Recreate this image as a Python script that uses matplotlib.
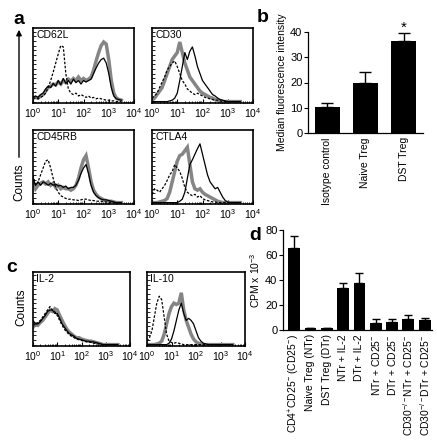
import numpy as np
import matplotlib
matplotlib.use("Agg")
import matplotlib.pyplot as plt
from matplotlib.ticker import LogLocator, NullFormatter, FixedLocator

plt.rcParams['font.family'] = ['Liberation Sans', 'DejaVu Sans']
plt.rcParams['mathtext.fontset'] = 'custom'
plt.rcParams['mathtext.rm'] = 'Liberation Sans'
plt.rcParams['mathtext.it'] = 'Liberation Sans:italic'
plt.rcParams['mathtext.bf'] = 'Liberation Sans:bold'

# ---------------- data ----------------
# histogram counts (fraction of panel height), bins every 0.1 decade starting at 10^0
cd62l_iso = [0.05,0.05,0.04,0.06,0.08,0.12,0.2,0.3,0.42,0.55,0.68,0.8,0.78,0.4,0.18,0.12,0.1,0.12,0.08,0.1,0.08,0.06,0.08,0.05,0.06,0.04,0.05,0.04,0.03,0.02,0.02,0.01,0.01,0.0,0.0,0.0]
cd62l_nai = [0.05,0.06,0.05,0.08,0.1,0.15,0.2,0.22,0.25,0.24,0.28,0.25,0.3,0.27,0.32,0.29,0.33,0.3,0.35,0.3,0.33,0.3,0.32,0.35,0.45,0.58,0.7,0.8,0.85,0.82,0.6,0.3,0.12,0.05,0.03,0.02]
cd62l_dst = [0.06,0.08,0.06,0.1,0.12,0.18,0.22,0.2,0.26,0.22,0.3,0.24,0.33,0.26,0.3,0.25,0.32,0.27,0.3,0.25,0.3,0.28,0.3,0.32,0.4,0.48,0.55,0.6,0.62,0.55,0.4,0.2,0.08,0.04,0.03,0.02]

cd30_iso = [0.05,0.08,0.12,0.2,0.28,0.35,0.45,0.5,0.55,0.58,0.5,0.4,0.3,0.25,0.18,0.15,0.12,0.1,0.12,0.1,0.08,0.06,0.05,0.04,0.03,0.02,0.02,0.01,0.0,0.0,0.0,0.0,0.0,0.0,0.0,0.0]
cd30_nai = [0.02,0.05,0.1,0.15,0.2,0.3,0.4,0.5,0.6,0.65,0.7,0.85,0.7,0.55,0.45,0.35,0.3,0.25,0.2,0.15,0.12,0.1,0.08,0.06,0.05,0.03,0.02,0.01,0.0,0.0,0.0,0.0,0.0,0.0,0.0,0.0]
cd30_dst = [0.0,0.0,0.0,0.0,0.0,0.0,0.0,0.01,0.02,0.05,0.12,0.3,0.5,0.7,0.6,0.72,0.78,0.65,0.5,0.4,0.3,0.25,0.2,0.15,0.1,0.08,0.05,0.03,0.02,0.01,0.0,0.0,0.0,0.0,0.0,0.0]

cd45_iso = [0.4,0.25,0.3,0.4,0.5,0.6,0.62,0.5,0.35,0.22,0.15,0.1,0.08,0.06,0.05,0.05,0.04,0.04,0.03,0.04,0.05,0.05,0.04,0.03,0.03,0.02,0.02,0.02,0.01,0.01,0.01,0.0,0.0,0.0,0.0,0.0]
cd45_nai = [0.3,0.2,0.25,0.28,0.3,0.27,0.3,0.25,0.28,0.22,0.25,0.2,0.22,0.2,0.2,0.18,0.2,0.25,0.35,0.5,0.62,0.68,0.5,0.3,0.18,0.12,0.08,0.06,0.04,0.03,0.02,0.02,0.01,0.0,0.0,0.0]
cd45_dst = [0.35,0.25,0.3,0.25,0.3,0.28,0.25,0.28,0.25,0.27,0.24,0.25,0.22,0.24,0.2,0.22,0.22,0.25,0.32,0.42,0.5,0.55,0.42,0.25,0.15,0.1,0.07,0.05,0.04,0.04,0.03,0.02,0.01,0.0,0.0,0.0]

ctla4_iso = [0.12,0.2,0.18,0.15,0.2,0.25,0.32,0.4,0.45,0.55,0.5,0.45,0.35,0.22,0.15,0.12,0.1,0.12,0.08,0.1,0.06,0.04,0.03,0.02,0.01,0.01,0.0,0.0,0.0,0.0,0.0,0.0,0.0,0.0,0.0,0.0]
ctla4_nai = [0.0,0.0,0.0,0.01,0.02,0.03,0.06,0.15,0.3,0.45,0.6,0.68,0.7,0.75,0.8,0.55,0.3,0.2,0.18,0.2,0.15,0.12,0.1,0.08,0.06,0.04,0.02,0.01,0.0,0.0,0.0,0.0,0.0,0.0,0.0,0.0]
ctla4_dst = [0.0,0.0,0.0,0.0,0.0,0.0,0.0,0.0,0.0,0.0,0.0,0.02,0.05,0.15,0.35,0.55,0.62,0.7,0.78,0.85,0.7,0.55,0.4,0.3,0.25,0.2,0.22,0.15,0.08,0.03,0.01,0.0,0.0,0.0,0.0,0.0]

il2_iso = [0.3,0.28,0.32,0.35,0.4,0.45,0.5,0.55,0.5,0.48,0.42,0.35,0.28,0.22,0.18,0.14,0.12,0.1,0.08,0.07,0.06,0.05,0.04,0.04,0.03,0.02,0.02,0.01,0.0,0.0,0.0,0.0,0.0,0.0,0.0,0.0]
il2_nai = [0.25,0.3,0.28,0.32,0.35,0.4,0.45,0.5,0.48,0.52,0.5,0.42,0.35,0.28,0.22,0.18,0.15,0.12,0.1,0.1,0.08,0.07,0.06,0.05,0.05,0.04,0.03,0.02,0.01,0.0,0.0,0.0,0.0,0.0,0.0,0.0]
il2_dst = [0.35,0.3,0.3,0.33,0.38,0.42,0.48,0.5,0.5,0.45,0.45,0.38,0.3,0.25,0.2,0.16,0.14,0.12,0.09,0.08,0.07,0.06,0.05,0.05,0.04,0.04,0.03,0.02,0.01,0.0,0.0,0.0,0.0,0.0,0.0,0.0]

il10_iso = [0.05,0.1,0.2,0.4,0.6,0.7,0.65,0.4,0.15,0.05,0.03,0.02,0.03,0.02,0.01,0.0,0.0,0.0,0.0,0.0,0.0,0.0,0.0,0.0,0.0,0.0,0.0,0.0,0.0,0.0,0.0,0.0,0.0,0.0,0.0,0.0]
il10_nai = [0.0,0.0,0.0,0.0,0.01,0.02,0.05,0.15,0.3,0.45,0.55,0.6,0.58,0.6,0.75,0.5,0.35,0.25,0.15,0.08,0.04,0.02,0.01,0.0,0.0,0.0,0.0,0.0,0.0,0.0,0.0,0.0,0.0,0.0,0.0,0.0]
il10_dst = [0.0,0.0,0.0,0.0,0.0,0.0,0.0,0.0,0.0,0.02,0.08,0.2,0.35,0.5,0.6,0.45,0.35,0.38,0.35,0.3,0.2,0.1,0.05,0.02,0.01,0.0,0.0,0.0,0.0,0.0,0.0,0.0,0.0,0.0,0.0,0.0]

hist_names = ["CD62L", "CD30", "CD45RB", "CTLA4", "IL-2", "IL-10"]

b_categories = ["Isotype control", "Naive Treg", "DST Treg"]
b_values = [10.3, 19.8, 36.4]
b_errors = [1.6, 4.4, 3.1]

d_categories = ["CD4$^{+}$CD25$^{-}$ (CD25$^{-}$)", "Naive Treg (NTr)", "DST Treg (DTr)",
                "NTr + IL-2", "DTr + IL-2", "NTr + CD25$^{-}$", "DTr + CD25$^{-}$",
                "CD30$^{-/-}$NTr + CD25$^{-}$", "CD30$^{-/-}$DTr + CD25$^{-}$"]
d_values = [66, 1.5, 1.5, 33.3, 37.3, 5.9, 6.7, 8.5, 8.0]
d_errors = [9, 0.3, 0.3, 4.5, 8, 2.9, 2.1, 3.8, 1.9]

# ---------------- figure ----------------
W, H = 437, 443
fig = plt.figure(figsize=(W/100, H/100), dpi=100)

def ax_px(x0, y_top, w, h):
    return fig.add_axes([x0/W, 1 - (y_top + h)/H, w/W, h/H])

def hist_panel(ax, name, iso, nai, dst):
    xs = 10 ** (0.1 * np.arange(len(iso)))
    ax.plot(xs, nai, color='#858585', lw=2.5, solid_joinstyle='miter')
    ax.plot(xs, dst, color='black', lw=0.9)
    ax.plot(xs, iso, color='black', lw=0.9, ls=(0, (2, 1.3)))
    ax.set_xscale('log')
    ax.set_xlim(1, 1e4)
    ax.set_ylim(-0.02, 1.05)
    ax.xaxis.set_major_locator(FixedLocator([1, 10, 100, 1000, 10000]))
    ax.xaxis.set_minor_locator(LogLocator(base=10, subs=np.arange(2, 10), numticks=20))
    ax.xaxis.set_minor_formatter(NullFormatter())
    ax.set_xticklabels([r'$10^{0}$', r'$10^{1}$', r'$10^{2}$', r'$10^{3}$', r'$10^{4}$'])
    ax.tick_params(axis='x', which='major', direction='in', length=3, width=0.8, labelsize=7.5, pad=2)
    ax.tick_params(axis='x', which='minor', direction='in', length=1.8, width=0.6)
    ax.set_yticks(np.linspace(0, 1, 16))
    ax.set_yticklabels([])
    ax.tick_params(axis='y', direction='in', length=1.8, width=0.6)
    for s in ax.spines.values():
        s.set_linewidth(1.2)
    ax.text(0.03, 0.97, name, transform=ax.transAxes, ha='left', va='top', fontsize=7.5)

ax1 = ax_px(33, 28, 101, 75); hist_panel(ax1, "CD62L", cd62l_iso, cd62l_nai, cd62l_dst)
ax2 = ax_px(152, 28, 101, 75); hist_panel(ax2, "CD30", cd30_iso, cd30_nai, cd30_dst)
ax3 = ax_px(33, 130, 101, 74); hist_panel(ax3, "CD45RB", cd45_iso, cd45_nai, cd45_dst)
ax4 = ax_px(152, 130, 101, 74); hist_panel(ax4, "CTLA4", ctla4_iso, ctla4_nai, ctla4_dst)
ax5 = ax_px(33, 272, 97, 74); hist_panel(ax5, "IL-2", il2_iso, il2_nai, il2_dst)
ax6 = ax_px(147, 272, 98, 74); hist_panel(ax6, "IL-10", il10_iso, il10_nai, il10_dst)

# Counts arrow and labels
fig.add_artist(matplotlib.patches.FancyArrowPatch(
    (19/W, 1 - 160/H), (19/W, 1 - 27/H), transform=fig.transFigure,
    arrowstyle='-|>', mutation_scale=8, lw=1.0, color='black'))
fig.text(19/W, 1 - 182/H, "Counts", rotation=90, ha='center', va='center', fontsize=8.5)
fig.text(21/W, 1 - 307/H, "Counts", rotation=90, ha='center', va='center', fontsize=8.5)

# panel letters
for lab, x, y in [("a", 19, 19), ("b", 263, 17), ("c", 12, 268), ("d", 255, 235)]:
    fig.text(x/W, 1 - y/H, lab, fontsize=14, fontweight='bold', ha='center', va='center')

# ---------------- panel b ----------------
axb = ax_px(308, 32, 115, 101)
xb = np.arange(len(b_values))
axb.bar(xb, b_values, width=0.65, color='black')
axb.errorbar(xb, b_values, yerr=[np.zeros(len(b_errors)), b_errors], fmt='none',
             ecolor='black', elinewidth=1.0, capsize=4, capthick=1.0, clip_on=False)
axb.text(2, b_values[2] + b_errors[2] - 0.5, "*", ha='center', va='bottom', fontsize=11)
axb.set_xlim(-0.5, 2.5)
axb.set_ylim(0, 40)
axb.set_yticks([0, 10, 20, 30, 40])
axb.set_xticks(xb)
axb.set_xticklabels(b_categories, rotation=90, fontsize=7.5)
axb.tick_params(axis='x', length=0, pad=3)
axb.tick_params(axis='y', direction='out', length=3, width=0.8, labelsize=8, pad=1)
axb.spines['top'].set_visible(False)
axb.spines['right'].set_visible(False)
axb.spines['left'].set_linewidth(0.9)
axb.spines['bottom'].set_linewidth(0.9)
axb.set_ylabel("Median fluorescence intensity", fontsize=7.5, labelpad=2)

# ---------------- panel d ----------------
axd = ax_px(283, 230, 149, 100)
xd = np.arange(len(d_values))
axd.bar(xd, d_values, width=0.72, color='black')
axd.errorbar(xd, d_values, yerr=[np.zeros(len(d_errors)), d_errors], fmt='none',
             ecolor='black', elinewidth=1.0, capsize=3, capthick=1.0, clip_on=False)
axd.set_xlim(-0.68, 8.45)
axd.set_ylim(0, 80)
axd.set_yticks([0, 20, 40, 60, 80])
axd.set_xticks(xd)
axd.set_xticklabels(d_categories, rotation=90, fontsize=7.5)
axd.tick_params(axis='x', length=0, pad=3)
axd.tick_params(axis='y', direction='out', length=3, width=0.8, labelsize=8, pad=1)
axd.spines['top'].set_visible(False)
axd.spines['right'].set_visible(False)
axd.spines['left'].set_linewidth(0.9)
axd.spines['bottom'].set_linewidth(0.9)
axd.set_ylabel("CPM x 10$^{-3}$", fontsize=7.5, labelpad=2)

fig.savefig("out.png", dpi=100)
